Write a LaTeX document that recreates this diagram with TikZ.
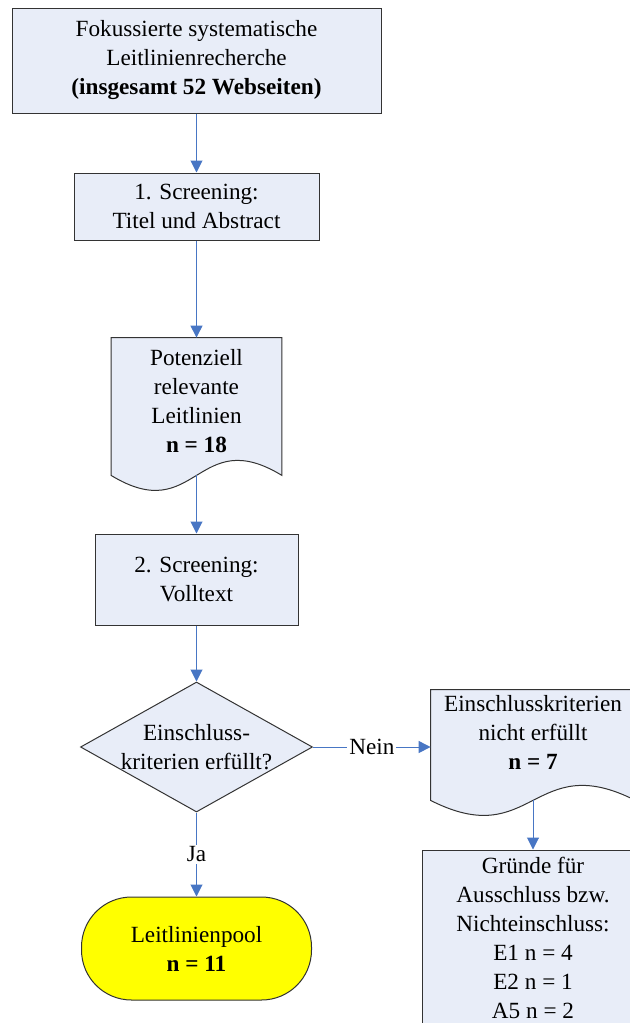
\documentclass[tikz,border=0pt]{standalone}
\usepackage{fontspec}
\setmainfont{Liberation Serif}
\usetikzlibrary{arrows.meta, calc, shapes.geometric, backgrounds}

\definecolor{boxfill}{RGB}{232,237,248}
\definecolor{linkblue}{RGB}{72,118,196}
\definecolor{poolyellow}{RGB}{255,255,0}

\begin{document}
\begin{tikzpicture}[x=0.5pt, y=-0.5pt,
	font=\fontsize{11.6}{14.5}\selectfont,
	box/.style={draw=black!80, fill=boxfill, line width=0.5pt, align=center, inner sep=0pt},
	doc/.style={inner sep=0pt},
	doctext/.style={align=center, inner sep=0pt},
	link/.style={draw=linkblue, line width=0.5pt, -{Triangle[length=6pt, width=6pt]}},
	tag/.style={fill=white, inner sep=1pt}]
	
	\useasboundingbox (0,0) rectangle (630,1023);
	
	\node[box, minimum width=184.5pt, minimum height=52.5pt] (search) at (196.5,60.5)
		{Fokussierte systematische\\Leitlinienrecherche\\\textbf{(insgesamt 52 Webseiten)}};
	\node[box, minimum width=122.5pt, minimum height=33.5pt] (screen1) at (196.5,206.5)
		{1. Screening:\\Titel und Abstract};
	\node[doc, minimum width=85pt, minimum height=68.5pt] (relevant) at (196.5,406.5) {};
	\node[doctext] (relevanttext) at (196.5,401.5)
		{Potenziell\\relevante\\Leitlinien\\\textbf{n = 18}};
	\node[box, minimum width=101.5pt, minimum height=45.5pt] (screen2) at (196.5,579.5)
		{2. Screening:\\Volltext};
	
	\node[diamond, draw=black!80, fill=boxfill, line width=0.5pt, inner sep=0pt,
		minimum width=116pt, minimum height=65pt] (check) at (196.5,747) {};
	\node[doctext] (checktext) at (check.center) {Einschluss-\\kriterien erfüllt?};
	
	\node[doc, minimum width=102pt, minimum height=55pt] (excluded) at (533,745) {};
	\node[doctext] (excludedtext) at (533,732)
		{Einschlusskriterien\\nicht erfüllt\\\textbf{n = 7}};
	\node[box, minimum width=111pt, minimum height=88pt] (reasons) at (533,938)
		{Gründe für\\Ausschluss bzw.\\Nichteinschluss:\\E1 n = 4\\E2 n = 1\\A5 n = 2};
	
	\node[box, fill=poolyellow, rounded corners=25pt, minimum width=115pt, minimum height=51.5pt]
		(pool) at (196.5,948.5) {Leitlinienpool\\\textbf{n = 11}};
	
	% document shapes with wavy bottom
	\begin{scope}[on background layer]
		\foreach \d in {relevant, excluded}
		\filldraw[draw=black!80, fill=boxfill, line width=0.5pt]
			(\d.south west) -- (\d.north west) -- (\d.north east) -- (\d.south east)
			.. controls ($(\d.south)+(0,-52)$) and ($(\d.south)+(0,52)$) .. (\d.south west) -- cycle;
	\end{scope}
	
	\draw[link] (search) -- (screen1);
	\draw[link] (screen1) -- (relevant);
	\draw[link] (relevant.south) -- (screen2.north);
	\draw[link] (screen2) -- (check);
	\draw[link] (check.east) -- node[tag] (no) {Nein} (check.east -| excluded.west);
	\draw[link] (excluded.south) -- (reasons.north);
	\draw[link] (check.south) -- node[tag] (yes) {Ja} (pool.north);
	
\end{tikzpicture}
\end{document}
